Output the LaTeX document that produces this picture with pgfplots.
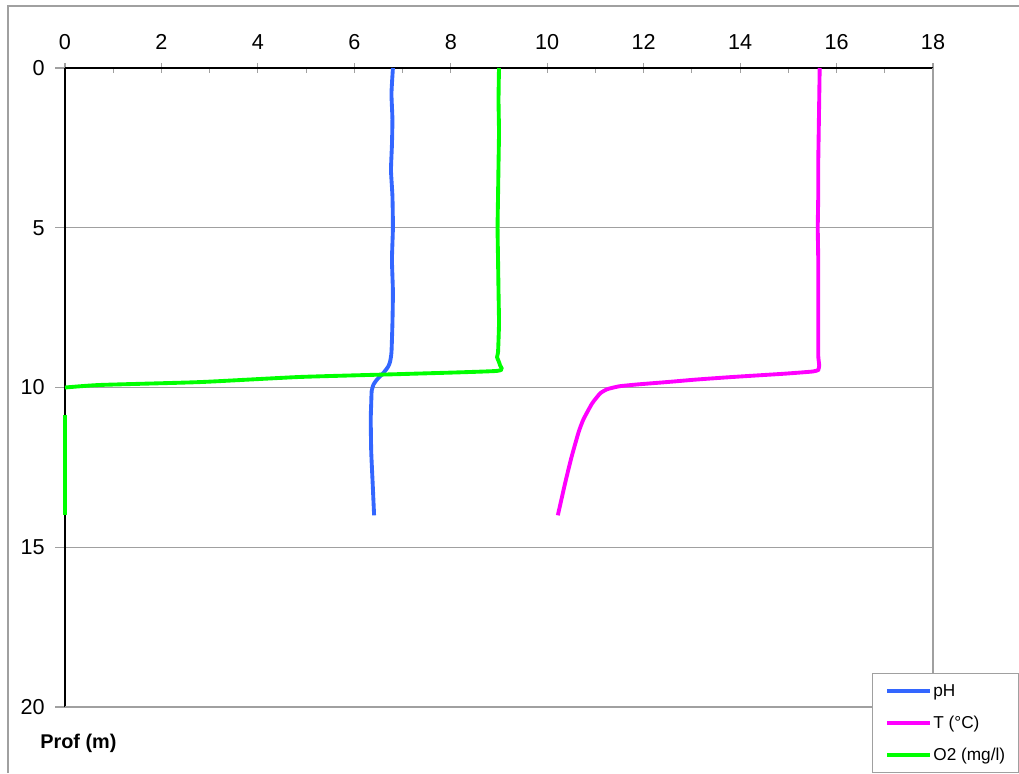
\documentclass[border=0pt]{standalone}
\usepackage{pgfplots}
\pgfplotsset{compat=1.18}
\usepackage{fontspec}
\setmainfont{Liberation Sans}
\definecolor{phblue}{RGB}{51,102,255}
\definecolor{tmag}{RGB}{255,0,255}
\definecolor{ogreen}{RGB}{0,255,0}
\definecolor{gridgray}{RGB}{160,160,160}
\begin{document}
\begin{tikzpicture}[x=1cm,y=1cm]
\useasboundingbox (0,0) rectangle (20.38,15.46);
\draw[gridgray, line width=0.6pt] (0.16,0) -- (0.16,15.34) -- (20.38,15.34);
\node[anchor=base west, inner sep=0pt, font=\bfseries\fontsize{11.3}{13}\selectfont] at (0.80,0.50) {Prof (m)};
\begin{axis}[
  scale only axis, width=17.36cm, height=12.78cm,
  at={(1.30cm,1.32cm)}, anchor=south west,
  xmin=0, xmax=18, ymin=0, ymax=20, y dir=reverse,
  axis x line*=top, axis y line*=left,
  axis line style={black, line width=0.9pt},
  xtick={0,2,...,18}, minor xtick={1,3,...,17},
  ytick={0,5,10,15,20},
  ymajorgrids, grid style={gridgray, line width=0.6pt},
  tick align=inside,
  major tick length=0.2cm, minor tick length=0.1cm,
  tick style={gridgray, line width=0.6pt},
  major x tick style={yshift=0.1cm},
  major y tick style={xshift=-0.2cm},
  /pgf/number format/assume math mode=true,
  tick label style={font=\fontsize{12.3}{14}\selectfont, inner sep=0pt},
  xticklabel style={anchor=base, yshift=0.38cm},
  yticklabel style={anchor=east, xshift=-0.40cm},
  clip=false,
  legend style={at={(0.9297,0.0532)}, anchor=north west, draw=gridgray, line width=0.6pt,
    font=\fontsize{9.8}{11}\selectfont, inner xsep=0.26cm, inner ysep=0.16cm,
    row sep=0.26cm, column sep=0.02cm,
    nodes={inner sep=0pt, text height=0.3cm, text depth=0.08cm},
    cells={anchor=west}},
  legend image code/.code={\draw[#1] (0cm,0cm) -- (0.86cm,0cm);},
]
\draw[gridgray, line width=0.6pt] (axis cs:18,0) -- (axis cs:18,20) -- (axis cs:0,20);
\addplot[phblue, line width=2.2pt, smooth, tension=0.3] coordinates {
(6.80,0) (6.77,0.8) (6.79,1.6) (6.78,2.4) (6.76,3.2) (6.79,4.0) (6.80,5.0) (6.78,6.0) (6.80,7.0) (6.79,8.0) (6.77,8.9) (6.74,9.2) (6.70,9.35) (6.60,9.55) (6.47,9.75) (6.40,9.9) (6.36,10.1) (6.35,10.5) (6.34,11.0) (6.35,12.0) (6.38,13.0) (6.41,14.0)};
\addlegendentry{pH}
\addplot[tmag, line width=2.2pt, smooth, tension=0.3] coordinates {
(15.65,0) (15.64,1) (15.63,2) (15.62,3) (15.62,4) (15.61,5) (15.62,6) (15.62,7) (15.62,8) (15.62,9) (15.64,9.3) (15.62,9.45) (15.5,9.5) (14.9,9.57) (13.85,9.67) (13.1,9.75) (12.48,9.83) (11.9,9.9) (11.5,9.96) (11.25,10.05) (11.1,10.18) (10.93,10.5) (10.75,11.0) (10.65,11.4) (10.5,12.2) (10.37,13.0) (10.22,14.0)};
\addlegendentry{T (°C)}
\addplot[ogreen, line width=2.2pt, smooth, tension=0.3] coordinates {
(9.00,0) (8.99,1) (9.00,2) (8.99,3) (8.98,4) (8.97,5) (8.98,6) (8.99,7) (9.00,8) (8.98,8.9) (8.96,9.05) (9.02,9.3) (8.96,9.48) (6.95,9.58) (4.87,9.67) (2.8,9.83) (0.73,9.92) (0,10.0)};
\addlegendentry{O2 (mg/l)}
\addplot[ogreen, line width=2.2pt, forget plot] coordinates {(0,10.85) (0,14.0)};
\end{axis}
\end{tikzpicture}
\end{document}
